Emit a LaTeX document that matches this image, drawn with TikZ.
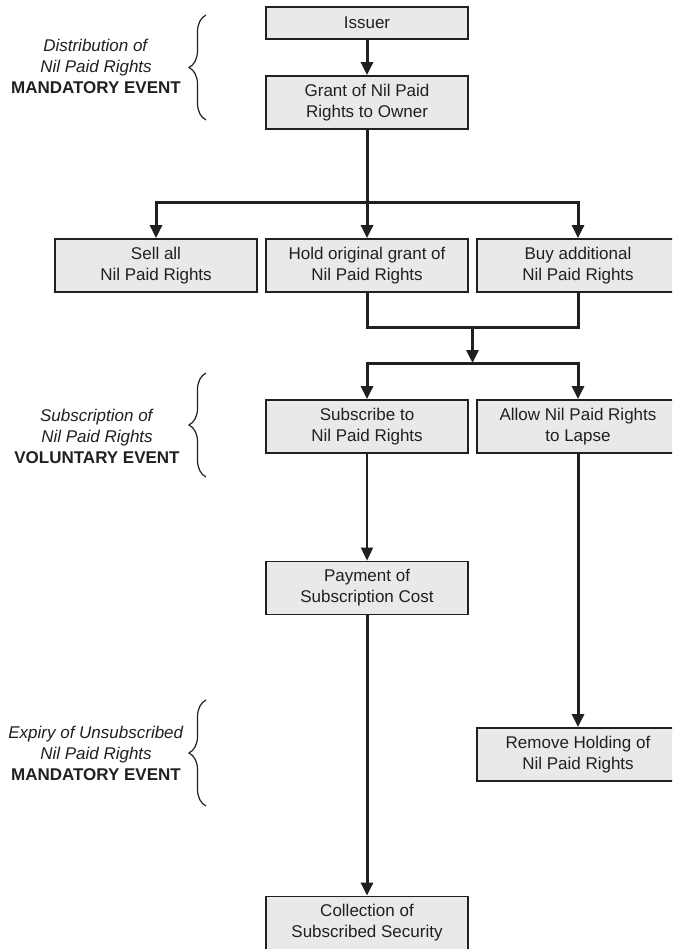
\documentclass[tikz,border=0pt]{standalone}
\usepackage{fontspec}
\setmainfont{Liberation Sans}
\usetikzlibrary{arrows.meta,decorations.pathreplacing}
\definecolor{ink}{HTML}{231F20}
\definecolor{boxfill}{HTML}{E8E9E8}
\begin{document}
\begin{tikzpicture}[x=1pt,y=-1pt,
  box/.style={draw=ink,line width=1.8pt,fill=boxfill,minimum width=202pt,minimum height=53pt,inner sep=0pt,align=center,font=\fontsize{17}{21}\selectfont,text=ink},
  conn/.style={draw=ink,line width=3pt},
  arr/.style={conn,-{Triangle[length=13pt,width=12pt]}},
  arrthin/.style={draw=ink,line width=1.8pt,-{Triangle[length=13pt,width=12pt]}},
  bracestyle/.style={draw=ink,line width=1.2pt,decorate,decoration={brace,amplitude=17pt}},
  lab/.style={align=center,font=\fontsize{17}{21}\selectfont,text=ink,inner sep=0pt}
]
\useasboundingbox (0,0) rectangle (672,949);
\clip (0,0) rectangle (672,949);
\fill[white] (0,0) rectangle (672,949);

% boxes
\node[box,minimum height=32pt] (issuer) at (367,23) {Issuer};
\node[box] (grant) at (367,102.5) {Grant of Nil Paid\\Rights to Owner};
\node[box] (sell) at (156,265.5) {Sell all\\Nil Paid Rights};
\node[box] (hold) at (367,265.5) {Hold original grant of\\Nil Paid Rights};
\node[box] (buy) at (578,265.5) {Buy additional\\Nil Paid Rights};
\node[box] (subscribe) at (367,426.5) {Subscribe to\\Nil Paid Rights};
\node[box] (allow) at (578,426.5) {Allow Nil Paid Rights\\to Lapse};
\node[box] (payment) at (367,588) {Payment of\\Subscription Cost};
\node[box] (remove) at (578,754.5) {Remove Holding of\\Nil Paid Rights};
\node[box] (collection) at (367,923) {Collection of\\Subscribed Security};

% junction points
\coordinate (split1) at (367,203);
\coordinate (merge) at (472.5,327);
\coordinate (split2) at (472.5,363);

% connectors
\draw[arr] (issuer) -- (grant);
\draw[arr] (grant) -- (hold);
\draw[arr] (split1) -| (sell);
\draw[arr] (split1) -| (buy);
\draw[conn] (hold.south) -- (hold.south |- merge) -- (buy.south |- merge) -- (buy.south);
\draw[arr] (merge) -- (split2);
\draw[arr] (split2) -| (subscribe);
\draw[arr] (split2) -| (allow);
\draw[arrthin] (subscribe) -- (payment);
\draw[arr] (payment) -- (collection);
\draw[arr] (allow) -- (remove);

% braces
\coordinate (b1s) at (206,120); \coordinate (b1e) at (206,15);
\coordinate (b2s) at (206,477); \coordinate (b2e) at (206,373);
\coordinate (b3s) at (206,806); \coordinate (b3e) at (206,700);
\draw[bracestyle] (b1s) -- (b1e);
\draw[bracestyle] (b2s) -- (b2e);
\draw[bracestyle] (b3s) -- (b3e);

% labels
\node[lab] (l1) at (96,66) {\textit{Distribution of}\\\textit{Nil Paid Rights}\\\textbf{MANDATORY EVENT}};
\node[lab] (l2) at (97,436) {\textit{Subscription of}\\\textit{Nil Paid Rights}\\\textbf{VOLUNTARY EVENT}};
\node[lab] (l3) at (96,753) {\textit{Expiry of Unsubscribed}\\\textit{Nil Paid Rights}\\\textbf{MANDATORY EVENT}};
\end{tikzpicture}
\end{document}
